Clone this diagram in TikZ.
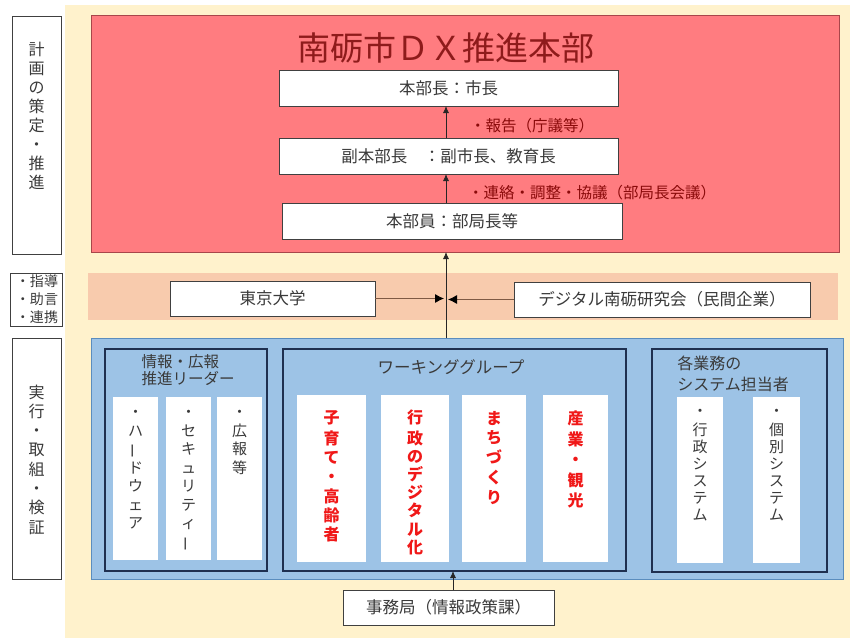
\documentclass[tikz,border=0pt]{standalone}
\usepackage{fontspec}
\setmainfont{Noto Sans CJK JP}
\usetikzlibrary{arrows.meta}
\definecolor{cream}{HTML}{FFF2CC}
\definecolor{hqfill}{HTML}{FF7C80}
\definecolor{hqdraw}{HTML}{A8464A}
\definecolor{peach}{HTML}{F8CBAD}
\definecolor{bluefill}{HTML}{9DC3E6}
\definecolor{bluedraw}{HTML}{5B8DBE}
\definecolor{navy}{HTML}{1F3050}
\definecolor{titlecol}{HTML}{8E1B1B}
\definecolor{lblcol}{HTML}{8A0A0A}
\definecolor{redtxt}{HTML}{F01818}
\definecolor{graytxt}{HTML}{3A3A3A}
\definecolor{linkcol}{HTML}{7F5A44}
\newcommand{\vbar}{\rotatebox[origin=c]{90}{ー}}
\begin{document}
\begin{tikzpicture}[x=1pt,y=-1pt,
  wbox/.style={draw=black!75, line width=0.9pt, fill=white, inner sep=0pt, outer sep=0pt,
    text=graytxt, font=\fontsize{16.5}{19}\selectfont},
  lbox/.style={draw=black!75, line width=0.9pt, fill=white, inner sep=0pt, outer sep=0pt},
  strip/.style={fill=white, inner sep=0pt, outer sep=0pt},
  innerbox/.style={draw=navy, line width=1.6pt, inner sep=0pt, outer sep=0pt},
  vtxt/.style={align=center, inner sep=0pt, text=graytxt},
  redv/.style={align=center, inner sep=0pt, text=redtxt, font=\fontsize{16}{19.3}\selectfont\bfseries},
  arr/.style={draw=black!85, line width=0.8pt, -{Latex[length=7pt,width=6pt]}},
  link/.style={draw=linkcol, line width=0.8pt, -{Latex[length=9pt,width=9pt,fill=black,color=black]}, shorten >=2pt}]
\useasboundingbox (0,0) rectangle (850,638);
\fill[cream] (65,5) rectangle (850,638);

% left labels
\node[lbox, minimum width=49pt, minimum height=238pt] (L1) at (36.5,135) {};
\node[vtxt, font=\fontsize{16}{19}\selectfont] (L1t) at (36.5,116) {計\\画\\の\\策\\定\\・\\推\\進};
\node[lbox, minimum width=52pt, minimum height=53pt] (L2) at (36,299.5) {};
\node[align=left, inner sep=0pt, text=graytxt, font=\fontsize{14}{18}\selectfont] (L2t) at (37,299.5) {・指導\\・助言\\・連携};
\node[lbox, minimum width=49pt, minimum height=241pt] (L3) at (36.5,458.5) {};
\node[vtxt, font=\fontsize{16}{19.3}\selectfont] (L3t) at (36.5,459.5) {実\\行\\・\\取\\組\\・\\検\\証};

% headquarters
\node[draw=hqdraw, line width=1pt, fill=hqfill, minimum width=748pt, minimum height=237pt, inner sep=0pt, outer sep=0pt] (hq) at (465,133.5) {};
\node[text=titlecol, font=\fontsize{33}{36}\selectfont, inner sep=0pt] (title) at (446,48) {南砺市ＤＸ推進本部};
\node[wbox, minimum width=339pt, minimum height=36pt] (chief) at (448.5,88) {本部長：市長};
\node[wbox, minimum width=339pt, minimum height=36pt] (vice) at (448.5,156) {副本部長　：副市長、教育長};
\node[wbox, minimum width=340pt, minimum height=36pt] (member) at (452,221) {本部員：部局長等};
\node[anchor=west, inner sep=0pt, text=lblcol, font=\fontsize{15.5}{18}\selectfont] (lbl1) at (470,126) {・報告（庁議等）};
\node[anchor=west, inner sep=0pt, text=lblcol, font=\fontsize{15.5}{18}\selectfont] (lbl2) at (468,193) {・連絡・調整・協議（部局長会議）};
\coordinate (ax) at (446,0);
\draw[arr] (member.north -| ax) -- (vice.south -| ax);
\draw[arr] (vice.north -| ax) -- (chief.south -| ax);

% advisors band
\node[fill=peach, minimum width=750pt, minimum height=47pt, inner sep=0pt, outer sep=0pt] (band) at (463,296.5) {};
\node[wbox, minimum width=205pt, minimum height=35pt] (todai) at (272.5,298.5) {東京大学};
\node[wbox, minimum width=296pt, minimum height=35pt] (digi) at (662,299.5) {デジタル南砺研究会（民間企業）};

% execution area
\node[draw=bluedraw, line width=1pt, fill=bluefill, minimum width=752pt, minimum height=241pt, inner sep=0pt, outer sep=0pt] (blue) at (467,458.5) {};
\draw[arr] (blue.north -| ax) -- (hq.south -| ax);
\draw[link] (todai.east) -- (todai.east -| ax);
\draw[link] (digi.west) -- (digi.west -| ax);

% info leaders
\node[innerbox, minimum width=162pt, minimum height=222pt] (info) at (186,460) {};
\node[align=left, inner sep=0pt, text=graytxt, font=\fontsize{15.5}{16.5}\selectfont] (infot) at (188,370) {情報・広報\\推進リーダー};
\node[strip, minimum width=45pt, minimum height=163pt] (ic1) at (135.5,478.5) {};
\node[strip, minimum width=45pt, minimum height=163pt] (ic2) at (188.5,478.5) {};
\node[strip, minimum width=45pt, minimum height=163pt] (ic3) at (239.5,478.5) {};
\node[vtxt, anchor=north, font=\fontsize{15}{18.5}\selectfont] (ic1t) at ([yshift=-7.5pt]ic1.north) {\strut・\\ハ\\\vbar\\ド\\ウ\\ェ\\ア};
\node[vtxt, anchor=north, font=\fontsize{15}{18.5}\selectfont] (ic2t) at ([yshift=-7.5pt]ic2.north) {\strut・\\セ\\キ\\ュ\\リ\\テ\\ィ\\\vbar};
\node[vtxt, anchor=north, font=\fontsize{15}{18.5}\selectfont] (ic3t) at ([yshift=-7.5pt]ic3.north) {\strut・\\広\\報\\等};

% working group
\node[innerbox, minimum width=343pt, minimum height=222pt] (wg) at (454.5,460) {};
\node[inner sep=0pt, text=graytxt, font=\fontsize{16.5}{18}\selectfont] (wgt) at (451,367) {ワーキンググループ};
\node[strip, minimum width=69pt, minimum height=167pt] (w1) at (331.5,478.5) {};
\node[strip, minimum width=68pt, minimum height=167pt] (w2) at (415,478.5) {};
\node[strip, minimum width=64pt, minimum height=167pt] (w3) at (494,478.5) {};
\node[strip, minimum width=65pt, minimum height=167pt] (w4) at (575.5,478.5) {};
\node[redv, anchor=north] (w1t) at ([yshift=-15pt]w1.north) {\strut 子\\育\\て\\・\\高\\齢\\者};
\node[redv, anchor=north, font=\fontsize{16}{18.2}\selectfont\bfseries] (w2t) at ([yshift=-15pt]w2.north) {\strut 行\\政\\の\\デ\\ジ\\タ\\ル\\化};
\node[redv, anchor=north, font=\fontsize{16}{19.8}\selectfont\bfseries] (w3t) at ([yshift=-15pt]w3.north) {\strut ま\\ち\\づ\\く\\り};
\node[redv, anchor=north, font=\fontsize{16}{20.5}\selectfont\bfseries] (w4t) at ([yshift=-15pt]w4.north) {\strut 産\\業\\・\\観\\光};

% systems
\node[innerbox, minimum width=175pt, minimum height=223pt] (sys) at (739.5,460.5) {};
\node[align=left, inner sep=0pt, text=graytxt, font=\fontsize{16}{21}\selectfont] (syst) at (733,374) {各業務の\\システム担当者};
\node[strip, minimum width=46pt, minimum height=166pt] (s1) at (700,480) {};
\node[strip, minimum width=47pt, minimum height=166pt] (s2) at (776.5,480) {};
\node[vtxt, anchor=north, font=\fontsize{15}{17}\selectfont] (s1t) at ([yshift=-7.5pt]s1.north) {\strut・\\行\\政\\シ\\ス\\テ\\ム};
\node[vtxt, anchor=north, font=\fontsize{15}{17}\selectfont] (s2t) at ([yshift=-7.5pt]s2.north) {\strut・\\個\\別\\シ\\ス\\テ\\ム};

% secretariat
\node[wbox, minimum width=211pt, minimum height=35pt] (jimu) at (448.5,607.5) {事務局（情報政策課）};
\coordinate (ax2) at (453,0);
\draw[arr] (jimu.north -| ax2) -- (wg.south -| ax2);
\end{tikzpicture}
\end{document}
